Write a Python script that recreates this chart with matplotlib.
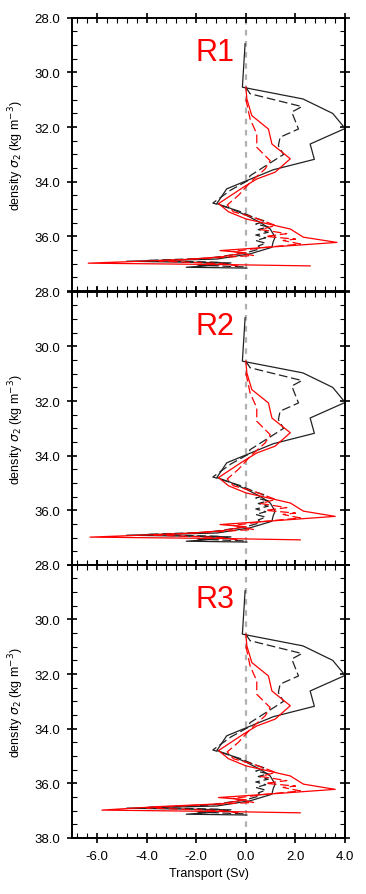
import matplotlib
matplotlib.use("Agg")
import matplotlib.pyplot as plt
from matplotlib.ticker import MultipleLocator, FormatStrFormatter

plt.rcParams['font.family'] = ['Liberation Sans', 'DejaVu Sans']

regions = ["R1", "R2", "R3"]

# black solid (same in all regions)
bs_y = [28.95, 30.54, 30.97, 31.5, 32.05, 32.62, 33.18, 33.56, 34.26, 34.8, 34.97,
        35.24, 35.5, 35.73, 36.03, 36.2, 36.4, 36.64, 36.83, 36.91, 36.97, 37.05,
        37.13, 37.16]
bs_x = [-0.03, -0.14, 2.3, 3.5, 4.0, 2.59, 2.76, 1.11, -0.77, -1.17, -0.63,
        0.04, 0.6, 0.98, 1.18, 1.1, 1.05, 0.17, -1.17, -4.8, -0.6, -1.2,
        -2.4, 0.04]

# black dashed
bd_y = [30.54, 30.78, 31.25, 31.45, 32.07, 32.37, 32.68, 33.0, 33.78, 33.95, 34.3,
        34.78, 34.9, 35.1, 35.3, 35.45, 35.55, 35.65, 35.75, 35.85, 35.95, 36.05,
        36.15, 36.25, 36.35, 36.45, 36.6, 36.8, 36.88, 36.95, 37.05, 37.12]
bd_x = [0.0, 0.17, 2.26, 1.85, 2.12, 1.38, 1.31, 1.52, 0.17, 0.1, -0.6,
        -1.33, -0.9, -0.2, 0.3, 0.8, 0.4, 0.9, 0.5, 0.9, 0.4, 0.8,
        0.4, 0.8, 0.5, 0.6, 0.0, -1.5, -4.0, -1.0, -2.0, 0.0]

# red solid
rs_y = [30.54, 30.97, 31.58, 32.07, 32.62, 33.16, 33.65, 33.9, 34.2, 34.8, 35.1,
        35.36, 35.73, 36.03, 36.22, 36.4, 36.52, 36.6, 36.75, 36.85, 36.98, 37.03,
        37.08]
rs_x = {
    "R1": [0.0, 0.04, 0.24, 0.91, 1.05, 1.79, 1.18, 0.44, -0.1, -1.1, -0.7,
           0.0, 1.79, 2.32, 3.67, 0.85, -1.04, 0.0, -1.0, -2.5, -6.35, -1.0, 2.59],
    "R2": [0.0, 0.04, 0.24, 0.91, 1.05, 1.79, 1.18, 0.44, -0.1, -1.1, -0.7,
           0.0, 1.79, 2.32, 3.6, 0.85, -1.04, 0.0, -1.0, -2.5, -6.28, -1.0, 2.19],
    "R3": [0.0, 0.04, 0.24, 0.91, 1.05, 1.79, 1.18, 0.44, -0.1, -1.1, -0.7,
           0.0, 1.79, 2.32, 3.6, 0.85, -1.1, 0.0, -1.0, -3.5, -5.8, -1.0, 2.19],
}

# red dashed
rd_y = [30.97, 31.7, 32.25, 32.74, 33.23, 33.53, 34.0, 34.5, 34.85, 35.1, 35.3,
        35.6, 35.75, 35.9, 36.0, 36.1, 36.15, 36.28, 36.4, 36.55, 36.7, 36.8,
        36.9, 37.0, 37.08]
rd_x = {
    "R1": [0.0, 0.17, 0.44, 0.44, 0.98, 0.78, 0.2, -0.3, -0.75, -0.5, 0.3,
           1.2, 0.6, 1.65, 0.8, 2.0, 1.5, 2.2, 0.8, -0.5, 0.3, -1.5,
           -3.5, -1.0, -0.3],
    "R2": [0.0, 0.17, 0.44, 0.44, 0.98, 0.78, 0.2, -0.3, -0.75, -0.5, 0.3,
           1.2, 0.6, 1.65, 0.8, 2.0, 1.5, 2.2, 0.8, -0.5, 0.3, -1.5,
           -3.8, -1.0, -0.3],
    "R3": [0.0, 0.17, 0.44, 0.44, 0.98, 0.78, 0.2, -0.3, -0.75, -0.5, 0.3,
           1.2, 0.6, 1.65, 0.8, 2.0, 1.5, 2.2, 0.8, -0.5, 0.3, -2.0,
           -4.0, -1.0, -0.3],
}

fig = plt.figure(figsize=(3.66, 8.95), dpi=100)
left, width, height = 0.197, 0.746, 0.3053
bottoms = [0.6737, 0.3676, 0.0626]

for i, reg in enumerate(regions):
    ax = fig.add_axes([left, bottoms[i], width, height])
    ax.axvline(0, color='#b0b0b0', lw=1.6, dashes=(2.5, 2.5), zorder=1)
    ax.plot(bs_x, bs_y, color='#222222', lw=0.9)
    ax.plot(bd_x, bd_y, color='#222222', lw=0.9, dashes=(7, 3))
    ax.plot(rs_x[reg], rs_y, color='red', lw=0.9)
    ax.plot(rd_x[reg], rd_y, color='red', lw=0.9, dashes=(7, 3))

    ax.set_xlim(-7, 4)
    ax.set_ylim(38, 28)
    ax.xaxis.set_major_locator(MultipleLocator(2))
    ax.xaxis.set_minor_locator(MultipleLocator(0.4))
    ax.yaxis.set_major_locator(MultipleLocator(2))
    ax.yaxis.set_minor_locator(MultipleLocator(0.5))
    ax.xaxis.set_major_formatter(FormatStrFormatter('%.1f'))
    ax.yaxis.set_major_formatter(FormatStrFormatter('%.1f'))
    ax.tick_params(which='major', direction='inout', length=7, width=1.2,
                   top=True, right=True, labelsize=9.5, pad=5)
    ax.tick_params(which='minor', direction='in', length=3.5, width=0.8,
                   top=True, right=True)
    for s in ax.spines.values():
        s.set_linewidth(1.4)

    if i < 2:
        ax.tick_params(labelbottom=False)
        labs = ['%.1f' % v if v < 37.9 else '' for v in [28, 30, 32, 34, 36, 38]]
        ax.set_yticks([28, 30, 32, 34, 36, 38])
        ax.set_yticklabels(labs)
    else:
        ax.set_xlabel('Transport (Sv)', fontsize=9, labelpad=4)

    ax.set_ylabel(r'density $\sigma_2$ (kg m$^{-3}$)', fontsize=9, labelpad=6)
    ax.text(0.524, 0.875, reg, transform=ax.transAxes, color='red',
            fontsize=22, ha='center', va='center')

fig.savefig('out.png', dpi=100)
